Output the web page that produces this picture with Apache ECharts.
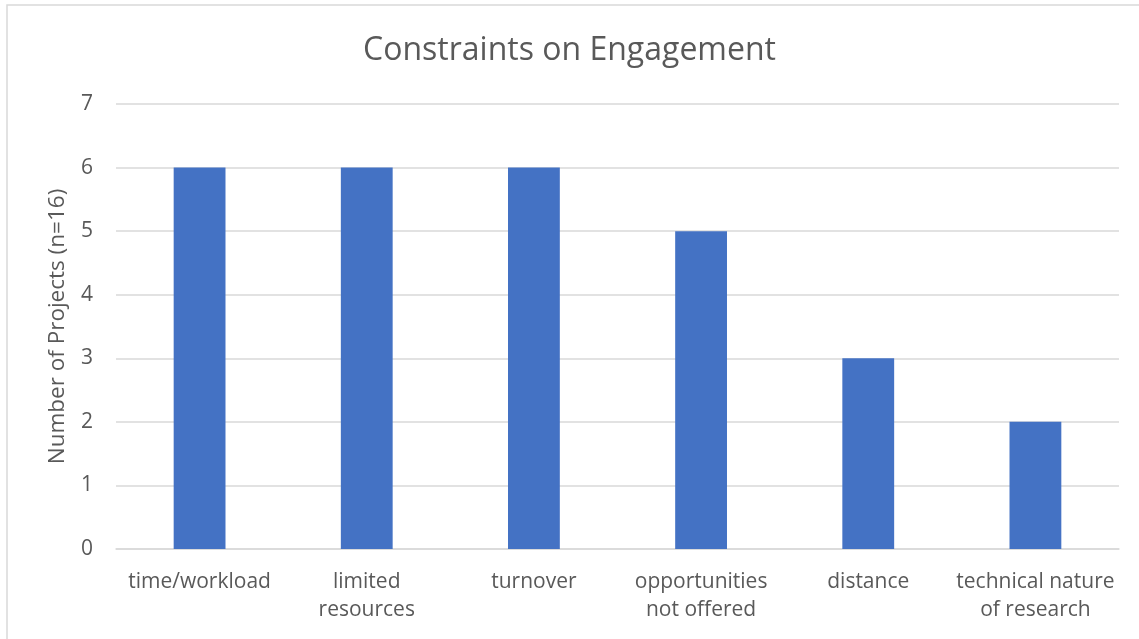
<!DOCTYPE html>
<html>
  <head>
    <meta charset="utf-8" />
    <title>Constraints on Engagement</title>
    <script src="https://cdn.jsdelivr.net/npm/echarts@6/dist/echarts.min.js"></script>
    <style>
      * { margin: 0; padding: 0; }
      body { background: #fff; }
    </style>
  </head>
  <body>
    <div id="main" style="width: 1139px; height: 639px;"></div>
    <script>
      // data
      const categories = [
        "time/workload",
        "limited\nresources",
        "turnover",
        "opportunities\nnot offered",
        "distance",
        "technical nature\nof research"
      ];
      const projects = [6, 6, 6, 5, 3, 2];
      const yTicks = { min: 0, max: 7, interval: 1 };

      const font = "'Open Sans', sans-serif";
      let myChart = echarts.init(document.getElementById("main"));

      let option = {
        animation: false,
        title: {
          text: "Constraints on Engagement",
          left: "center",
          top: 30,
          textStyle: { fontFamily: font, fontSize: 32, fontWeight: "normal", color: "#595959" }
        },
        graphic: [
          {
            type: "rect",
            shape: { x: 7, y: 5, width: 1140, height: 640 },
            style: { fill: "none", stroke: "#d9d9d9", lineWidth: 1.5 },
            silent: true
          }
        ],
        grid: { left: 116, right: 20, top: 104, bottom: 90 },
        xAxis: {
          type: "category",
          data: categories,
          axisTick: { show: false },
          axisLine: { lineStyle: { color: "#d9d9d9", width: 1.5 } },
          axisLabel: {
            fontFamily: font,
            fontSize: 21,
            color: "#595959",
            margin: 19,
            lineHeight: 28,
            interval: 0
          }
        },
        yAxis: {
          type: "value",
          min: yTicks.min,
          max: yTicks.max,
          interval: yTicks.interval,
          name: "Number of Projects (n=16)",
          nameLocation: "middle",
          nameGap: 47,
          nameTextStyle: { fontFamily: font, fontSize: 22.5, color: "#595959" },
          axisLine: { show: false },
          axisTick: { show: false },
          splitLine: { lineStyle: { color: "#d9d9d9", width: 1.5 } },
          axisLabel: { fontFamily: font, fontSize: 21, color: "#595959", margin: 23 }
        },
        series: [
          {
            type: "bar",
            data: projects,
            barWidth: "31%",
            itemStyle: { color: "#4472C4" }
          }
        ]
      };

      myChart.setOption(option);
    </script>
  </body>
</html>
